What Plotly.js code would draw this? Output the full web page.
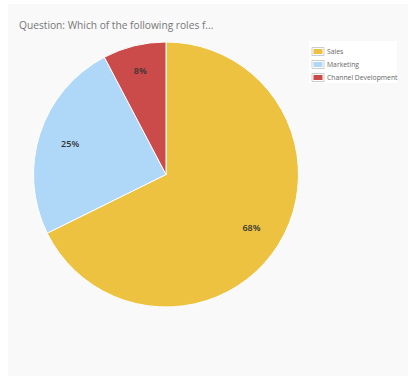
<!DOCTYPE html>
<html>
<head>
<meta charset="utf-8">
<script src="https://cdn.plot.ly/plotly-3.0.1.min.js"></script>
<style>
  html, body { margin: 0; padding: 0; background: #ffffff; width: 413px; height: 378px; overflow: hidden; }
  #chart { position: absolute; left: 8px; top: 4px; width: 400px; height: 372px; }
</style>
</head>
<body>
<div id="chart"></div>
<script>
const categories = ["Sales", "Marketing", "Channel Development"];
const values = [67.7, 24.6, 7.7];
const labelsText = ["68%", "25%", "8%"];
const colors = ["#edc240", "#afd8f8", "#cb4b4b"];

const W = 400, H = 372;
const pieDomain = { x: [25.5 / W, 290.5 / W], y: [1 - 303 / H, 1 - 38 / H] };

// Main pie (slices)
const pie = {
  type: "pie",
  labels: categories,
  values: values,
  textinfo: "none",
  sort: false,
  direction: "clockwise",
  rotation: 0,
  marker: { colors: colors, line: { color: "#ffffff", width: 1 } },
  domain: pieDomain,
  showlegend: false,
  hoverinfo: "label+percent"
};

// Transparent ring overlay that carries the percentage labels
const labelRing = {
  type: "pie",
  labels: categories,
  values: values,
  text: labelsText,
  textinfo: "text",
  textposition: "inside",
  insidetextorientation: "horizontal",
  hole: 0.52,
  sort: false,
  direction: "clockwise",
  rotation: 0,
  marker: { colors: categories.map(() => "rgba(0,0,0,0)"), line: { width: 0 } },
  textfont: { family: "Open Sans", size: 9, color: "#333333", weight: 600 },
  domain: pieDomain,
  showlegend: false,
  hoverinfo: "skip"
};

// Custom legend (flot style) built from the category/colour arrays
const legX0 = (309 - 8) / W, legX1 = (397 - 8) / W;
const legTop = 41 - 4, legBot = 83 - 4;
const rowY0 = 51.5 - 4, rowStep = 13;
const shapes = [{
  type: "rect", xref: "paper", yref: "paper",
  x0: legX0, x1: legX1, y0: 1 - legBot / H, y1: 1 - legTop / H,
  fillcolor: "#ffffff", line: { width: 0 }, layer: "above"
}];
const annotations = [];
categories.forEach((name, i) => {
  const cy = rowY0 + i * rowStep;
  shapes.push({
    type: "rect", xref: "paper", yref: "paper",
    x0: (312 - 8) / W, x1: (324 - 8) / W,
    y0: 1 - (cy + 4) / H, y1: 1 - (cy - 4) / H,
    fillcolor: "#ffffff", line: { color: "#cccccc", width: 1 }, layer: "above"
  });
  shapes.push({
    type: "rect", xref: "paper", yref: "paper",
    x0: (313.5 - 8) / W, x1: (322.5 - 8) / W,
    y0: 1 - (cy + 2.5) / H, y1: 1 - (cy - 2.5) / H,
    fillcolor: colors[i], line: { width: 0 }, layer: "above"
  });
  annotations.push({
    xref: "paper", yref: "paper",
    x: (325 - 8) / W, y: 1 - cy / H,
    xanchor: "left", yanchor: "middle",
    text: name, showarrow: false,
    font: { family: "Open Sans", size: 6.8, color: "#666666" }
  });
});

const layout = {
  width: W,
  height: H,
  margin: { l: 0, r: 0, t: 0, b: 0 },
  paper_bgcolor: "#f9f9f9",
  plot_bgcolor: "#f9f9f9",
  title: {
    text: "Question: Which of the following roles f...",
    font: { family: "Open Sans", size: 10.2, color: "#777777" },
    x: 11 / W, xanchor: "left", xref: "paper",
    y: 1 - 21 / H, yanchor: "middle", yref: "container"
  },
  showlegend: false,
  shapes: shapes,
  annotations: annotations
};

Plotly.newPlot("chart", [pie, labelRing], layout, { displayModeBar: false, staticPlot: true });
</script>
</body>
</html>
